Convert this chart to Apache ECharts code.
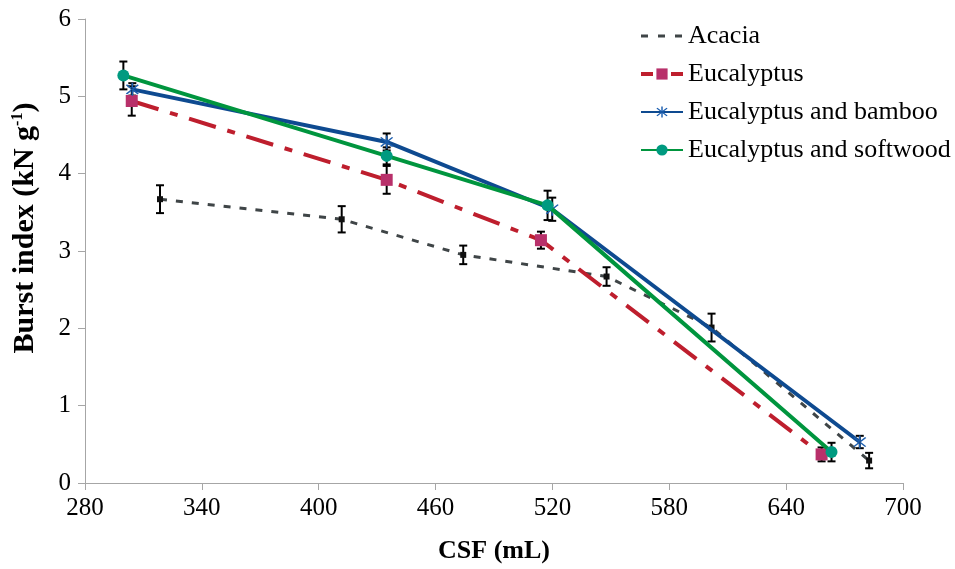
<!DOCTYPE html>
<html>
<head>
<meta charset="utf-8">
<script src="https://cdn.jsdelivr.net/npm/echarts@6/dist/echarts.min.js"></script>
<style>
  html, body { margin: 0; padding: 0; background: #fff; }
  #chart { width: 955px; height: 569px; }
</style>
</head>
<body>
<div id="chart"></div>
<script>
// CSF (mL) vs burst index (kN g-1) for four pulp furnishes, with error bars
const seriesNames = ['Acacia', 'Eucalyptus', 'Eucalyptus and bamboo', 'Eucalyptus and softwood'];

const acaciaCSF = [318.5, 411.8, 474.2, 547.8, 601.7, 682.6];
const acaciaBurst = [3.67, 3.41, 2.95, 2.67, 2.01, 0.29];
const acaciaErr = [0.18, 0.17, 0.12, 0.12, 0.18, 0.10];

const eucalyptusCSF = [304.0, 434.9, 514.1, 658.2];
const eucalyptusBurst = [4.94, 3.92, 3.14, 0.37];
const eucalyptusErr = [0.19, 0.18, 0.11, 0.09];

const bambooCSF = [304.3, 434.9, 519.9, 677.8];
const bambooBurst = [5.09, 4.41, 3.54, 0.53];
const bambooErr = [0.08, 0.11, 0.15, 0.08];

const softwoodCSF = [299.7, 434.9, 517.5, 663.3];
const softwoodBurst = [5.27, 4.23, 3.59, 0.40];
const softwoodErr = [0.18, 0.11, 0.19, 0.12];

const xTicks = [280, 340, 400, 460, 520, 580, 640, 700];
const yTicks = [0, 1, 2, 3, 4, 5, 6];

const FONT = '"Liberation Serif", "Times New Roman", serif';

const ACACIA_LINE = '#3f4547';
const EUC_LINE = '#be1e2d';
const EUC_MARK = '#b8306a';
const BAMBOO_LINE = '#0e4a90';
const BAMBOO_MARK = '#1d5fb0';
const SOFT_LINE = '#00953e';
const SOFT_MARK = '#009a80';

function pairs(xs, ys) { return xs.map((x, i) => [x, ys[i]]); }
function triples(xs, ys, es) { return xs.map((x, i) => [x, ys[i], es[i]]); }

// asterisk marker: vertical bar plus two diagonals
const asterisk = 'path://M-1,-10 L1,-10 L1,10 L-1,10 Z M6.36,7.78 L7.78,6.36 L-6.36,-7.78 L-7.78,-6.36 Z M7.78,-6.36 L6.36,-7.78 L-7.78,6.36 L-6.36,7.78 Z';

function errorSeries(data) {
  return {
    type: 'custom',
    z: 1,
    silent: true,
    data: data,
    renderItem: function (params, api) {
      const x = api.value(0), y = api.value(1), e = api.value(2);
      const top = api.coord([x, y + e]);
      const bot = api.coord([x, y - e]);
      const cap = 4;
      const st = { stroke: '#000', lineWidth: 2 };
      return {
        type: 'group',
        children: [
          { type: 'line', shape: { x1: top[0], y1: top[1], x2: bot[0], y2: bot[1] }, style: st },
          { type: 'line', shape: { x1: top[0] - cap, y1: top[1], x2: top[0] + cap, y2: top[1] }, style: st },
          { type: 'line', shape: { x1: bot[0] - cap, y1: bot[1], x2: bot[0] + cap, y2: bot[1] }, style: st }
        ]
      };
    }
  };
}

const chart = echarts.init(document.getElementById('chart'), null, { renderer: 'canvas' });

chart.setOption({
  animation: false,
  backgroundColor: '#fff',
  grid: { left: 85, right: 52, top: 19, bottom: 85 },
  legend: {
    orient: 'vertical',
    left: 634,
    top: 18,
    itemWidth: 42,
    itemHeight: 14,
    itemGap: 12,
    data: [
      { name: seriesNames[0], itemStyle: { color: ACACIA_LINE, opacity: 0 }, lineStyle: { type: [7, 10], width: 3 } },
      { name: seriesNames[1], lineStyle: { type: [12, 18], width: 4 } },
      { name: seriesNames[2] },
      { name: seriesNames[3] }
    ],
    textStyle: { fontFamily: FONT, fontSize: 26, color: '#000' }
  },
  xAxis: {
    type: 'value',
    min: xTicks[0],
    max: xTicks[xTicks.length - 1],
    interval: xTicks[1] - xTicks[0],
    name: 'CSF (mL)',
    nameLocation: 'middle',
    nameGap: 55,
    nameTextStyle: { fontFamily: FONT, fontSize: 26, fontWeight: 'bold', color: '#000' },
    axisLine: { show: true, lineStyle: { color: '#a6a6a6', width: 1 } },
    axisTick: { show: true, inside: false, length: 7, lineStyle: { color: '#a6a6a6' } },
    axisLabel: { fontFamily: FONT, fontSize: 25, color: '#000', margin: 13 },
    splitLine: { show: false }
  },
  yAxis: {
    type: 'value',
    min: yTicks[0],
    max: yTicks[yTicks.length - 1],
    interval: yTicks[1] - yTicks[0],
    name: '{t|Burst index (kN g}{s|-1}{t|)}',
    nameLocation: 'middle',
    nameGap: 45,
    nameTextStyle: {
      padding: [0, 0, 0, 46],
      rich: {
        t: { fontFamily: FONT, fontSize: 30, fontWeight: 'bold', color: '#000' },
        s: { fontFamily: FONT, fontSize: 16, fontWeight: 'bold', color: '#000', verticalAlign: 'top', padding: [0, 0, 12, 0] }
      }
    },
    axisLine: { show: true, lineStyle: { color: '#a6a6a6', width: 1 } },
    axisTick: { show: true, inside: false, length: 7, lineStyle: { color: '#a6a6a6' } },
    axisLabel: { fontFamily: FONT, fontSize: 25, color: '#000', margin: 14 },
    splitLine: { show: false }
  },
  series: [
    errorSeries(triples(acaciaCSF, acaciaBurst, acaciaErr)),
    errorSeries(triples(eucalyptusCSF, eucalyptusBurst, eucalyptusErr)),
    errorSeries(triples(bambooCSF, bambooBurst, bambooErr)),
    errorSeries(triples(softwoodCSF, softwoodBurst, softwoodErr)),
    {
      name: seriesNames[0],
      type: 'line',
      z: 2,
      data: pairs(acaciaCSF, acaciaBurst),
      symbol: 'rect',
      symbolSize: 6,
      showAllSymbol: true,
      itemStyle: { color: '#111' },
      lineStyle: { color: ACACIA_LINE, width: 3, type: [7, 9] }
    },
    {
      name: seriesNames[1],
      type: 'line',
      z: 3,
      data: pairs(eucalyptusCSF, eucalyptusBurst),
      symbol: 'rect',
      symbolSize: 12,
      itemStyle: { color: EUC_MARK },
      lineStyle: { color: EUC_LINE, width: 4, type: [28, 12, 8, 12] }
    },
    {
      name: seriesNames[2],
      type: 'line',
      z: 4,
      data: pairs(bambooCSF, bambooBurst),
      symbol: asterisk,
      symbolSize: 13,
      itemStyle: { color: BAMBOO_MARK },
      lineStyle: { color: BAMBOO_LINE, width: 4 }
    },
    {
      name: seriesNames[3],
      type: 'line',
      z: 5,
      data: pairs(softwoodCSF, softwoodBurst),
      symbol: 'circle',
      symbolSize: 12,
      itemStyle: { color: SOFT_MARK },
      lineStyle: { color: SOFT_LINE, width: 4 }
    }
  ]
});
</script>
</body>
</html>
